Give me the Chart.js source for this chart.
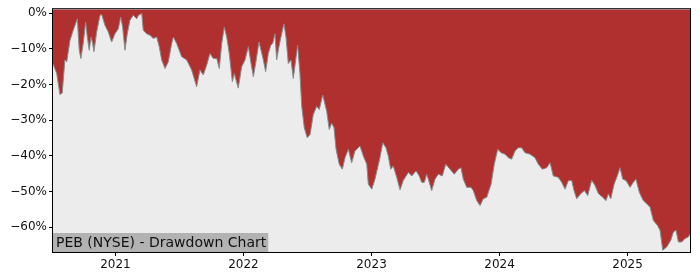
<!DOCTYPE html>
<html>
<head>
<meta charset="utf-8">
<script src="https://cdn.jsdelivr.net/npm/chart.js@4/dist/chart.umd.min.js"></script>
<style>
    html, body { margin: 0; padding: 0; background: #fff; }
    #wrap { width: 700px; height: 280px; }
</style>
</head>
<body>
<div id="wrap"><canvas id="ddChart" width="700" height="280"></canvas></div>
<script>
// time in decimal years, drawdown in percent
const years = [
    2020.512, 2020.541, 2020.566, 2020.584, 2020.605, 2020.619, 2020.645, 2020.670, 2020.702, 2020.717,
    2020.730, 2020.748, 2020.767, 2020.780, 2020.795, 2020.809, 2020.822, 2020.832, 2020.853, 2020.879,
    2020.892, 2020.918, 2020.944, 2020.970, 2020.996, 2021.022, 2021.041, 2021.056, 2021.074, 2021.092,
    2021.113, 2021.139, 2021.166, 2021.180, 2021.197, 2021.205, 2021.217, 2021.244, 2021.270, 2021.295,
    2021.322, 2021.342, 2021.361, 2021.387, 2021.413, 2021.439, 2021.452, 2021.478, 2021.517, 2021.556,
    2021.595, 2021.634, 2021.660, 2021.686, 2021.713, 2021.738, 2021.764, 2021.791, 2021.811, 2021.830,
    2021.850, 2021.869, 2021.889, 2021.913, 2021.928, 2021.959, 2021.986, 2022.012, 2022.038, 2022.059,
    2022.077, 2022.095, 2022.121, 2022.137, 2022.155, 2022.173, 2022.194, 2022.213, 2022.228, 2022.246,
    2022.259, 2022.277, 2022.298, 2022.316, 2022.332, 2022.350, 2022.371, 2022.389, 2022.408, 2022.423,
    2022.441, 2022.455, 2022.475, 2022.498, 2022.520, 2022.545, 2022.572, 2022.592, 2022.619, 2022.650,
    2022.670, 2022.689, 2022.707, 2022.723, 2022.748, 2022.772, 2022.793, 2022.819, 2022.845, 2022.871,
    2022.910, 2022.936, 2022.963, 2022.975, 2023.002, 2023.027, 2023.066, 2023.088, 2023.113, 2023.131,
    2023.150, 2023.170, 2023.197, 2023.223, 2023.248, 2023.288, 2023.314, 2023.348, 2023.373, 2023.392,
    2023.413, 2023.431, 2023.444, 2023.470, 2023.496, 2023.522, 2023.553, 2023.580, 2023.613, 2023.647,
    2023.678, 2023.699, 2023.717, 2023.744, 2023.777, 2023.795, 2023.822, 2023.848, 2023.873, 2023.900,
    2023.934, 2023.959, 2023.986, 2024.012, 2024.043, 2024.069, 2024.095, 2024.121, 2024.147, 2024.173,
    2024.199, 2024.238, 2024.277, 2024.303, 2024.334, 2024.369, 2024.395, 2024.420, 2024.459, 2024.486,
    2024.512, 2024.538, 2024.564, 2024.582, 2024.603, 2024.634, 2024.663, 2024.689, 2024.720, 2024.746,
    2024.772, 2024.806, 2024.832, 2024.850, 2024.869, 2024.895, 2024.916, 2024.941, 2024.963, 2024.988,
    2025.020, 2025.045, 2025.066, 2025.092, 2025.123, 2025.150, 2025.176, 2025.202, 2025.233, 2025.254,
    2025.275, 2025.306, 2025.338, 2025.358, 2025.379, 2025.397, 2025.423, 2025.449, 2025.475, 2025.488
];
const drawdown = [
    -14.2, -16.9, -22.8, -22.4, -13.1, -13.6, -7.6, -4.8, -1.6, -10.4,
    -12.7, -8.5, -2.5, -6.7, -10.4, -6.7, -8.5, -10.8, -5.3, -0.6,
    -0.4, -3.4, -5.3, -8.1, -5.8, -4.4, -1.1, -3.9, -10.4, -5.8,
    -2.0, -0.6, -1.6, -0.6, -0.3, 0.0, -4.8, -5.8, -6.2, -7.1,
    -6.7, -9.4, -13.1, -15.5, -13.6, -8.5, -6.7, -8.5, -12.2, -13.1,
    -15.9, -20.6, -15.9, -17.3, -14.5, -11.3, -12.7, -12.7, -15.5, -8.5,
    -3.9, -6.7, -11.3, -19.2, -16.9, -21.0, -15.0, -13.1, -9.4, -14.1,
    -17.8, -14.1, -8.1, -10.4, -13.1, -16.4, -11.3, -9.0, -8.5, -5.8,
    -13.1, -9.4, -5.8, -3.0, -6.7, -14.1, -13.1, -18.3, -13.1, -9.0,
    -16.9, -26.1, -32.1, -34.9, -34.0, -28.4, -26.1, -27.0, -22.9, -27.5,
    -32.6, -30.8, -32.1, -38.1, -42.3, -43.7, -40.5, -38.1, -41.9, -38.6,
    -37.2, -40.0, -42.3, -47.9, -49.3, -46.5, -40.5, -36.3, -37.7, -40.0,
    -43.7, -42.8, -46.0, -49.5, -46.9, -44.6, -45.6, -44.2, -45.6, -47.4,
    -47.4, -45.1, -46.5, -49.7, -46.5, -45.1, -45.6, -42.3, -43.7, -45.1,
    -43.7, -43.3, -46.5, -48.8, -48.8, -49.7, -52.5, -53.9, -52.0, -51.6,
    -47.9, -42.3, -38.1, -39.1, -39.5, -40.5, -40.9, -38.6, -37.7, -37.7,
    -39.1, -39.5, -40.5, -42.3, -43.7, -43.3, -41.9, -45.6, -46.0, -47.4,
    -49.3, -46.9, -46.9, -49.7, -52.0, -50.6, -49.7, -51.1, -46.8, -48.3,
    -50.5, -51.6, -52.5, -50.6, -52.0, -47.9, -46.0, -43.3, -46.5, -46.9,
    -48.8, -47.4, -46.5, -50.2, -52.5, -53.4, -54.4, -58.1, -59.4, -60.8,
    -66.4, -65.5, -63.6, -61.3, -60.8, -64.1, -64.1, -63.1, -62.7, -61.9
];
const yearTicks = [2021, 2022, 2023, 2024, 2025];
const pctTicks = [0, -10, -20, -30, -40, -50, -60];
const chartLabel = 'PEB (NYSE) - Drawdown Chart';

const FONT = 'DejaVu Sans';

// plot background + frame + label box
const plotDecor = {
    id: 'plotDecor',
    beforeDatasetsDraw(chart) {
        const { ctx, chartArea: a } = chart;
        ctx.save();
        ctx.fillStyle = '#ececec';
        ctx.fillRect(a.left, a.top, a.right - a.left, a.bottom - a.top);
        ctx.restore();
    },
    afterDatasetsDraw(chart) {
        const { ctx, chartArea: a } = chart;
        ctx.save();
        // label box at bottom left
        ctx.font = '14px "' + FONT + '"';
        const w = ctx.measureText(chartLabel).width;
        ctx.fillStyle = '#b2b2b2';
        ctx.fillRect(a.left, a.bottom - 19, w + 5, 19);
        ctx.fillStyle = '#111';
        ctx.textBaseline = 'middle';
        ctx.fillText(chartLabel, a.left + 3, a.bottom - 9);
        // frame
        ctx.strokeStyle = '#000';
        ctx.lineWidth = 1;
        ctx.strokeRect(a.left - 0.5, a.top - 0.5, a.right - a.left + 1, a.bottom - a.top + 1);
        ctx.restore();
    }
};

const points = years.map((t, i) => ({ x: t, y: drawdown[i] }));

new Chart(document.getElementById('ddChart').getContext('2d'), {
    type: 'line',
    data: {
        datasets: [{
            data: points,
            borderColor: '#8a8a8a',
            borderWidth: 1,
            backgroundColor: '#b03030',
            fill: 'end',
            pointRadius: 0,
            tension: 0,
        }],
    },
    options: {
        responsive: false,
        animation: false,
        maintainAspectRatio: false,
        layout: { padding: { top: 7, right: 10, left: 0, bottom: 0 } },
        plugins: { legend: { display: false }, tooltip: { enabled: false } },
        scales: {
            x: {
                type: 'linear',
                min: 2020.512,
                max: 2025.488,
                afterBuildTicks: (scale) => { scale.ticks = yearTicks.map((v) => ({ value: v })); },
                afterFit: (scale) => { scale.height = 28; },
                grid: { drawOnChartArea: false, drawTicks: true, tickLength: 4, color: '#000' },
                border: { display: false },
                ticks: {
                    autoSkip: false, maxRotation: 0, padding: 2,
                    color: '#111', font: { family: FONT, size: 12 },
                    callback: (v) => String(v),
                },
            },
            y: {
                min: -66.9,
                max: 1.1,
                afterBuildTicks: (scale) => { scale.ticks = pctTicks.map((v) => ({ value: v })); },
                afterFit: (scale) => { scale.width = 53; },
                grid: { drawOnChartArea: false, drawTicks: true, tickLength: 4, color: '#000' },
                border: { display: false },
                ticks: {
                    autoSkip: false, padding: 2,
                    color: '#111', font: { family: FONT, size: 12 },
                    callback: (v) => (v < 0 ? '\u2212' : '') + Math.abs(v) + '%',
                },
            },
        },
    },
    plugins: [plotDecor],
});
</script>
</body>
</html>
